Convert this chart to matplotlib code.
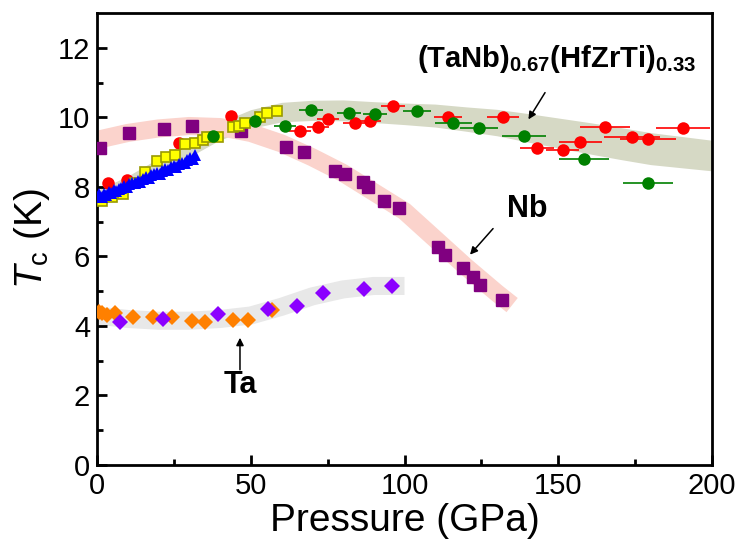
import matplotlib
matplotlib.use("Agg")
import matplotlib.pyplot as plt

plt.rcParams['font.family'] = ['Liberation Sans', 'DejaVu Sans']
plt.rcParams['mathtext.fontset'] = 'custom'
plt.rcParams['mathtext.rm'] = 'Liberation Sans'
plt.rcParams['mathtext.it'] = 'Liberation Sans:italic'
plt.rcParams['mathtext.bf'] = 'Liberation Sans:bold'

# guide-to-the-eye bands
hea_band_p = [0, 10, 20, 30, 40, 50, 60, 70, 80, 90, 100, 110, 120, 130, 140, 150, 160, 170, 180, 190, 200]
hea_band_mid = [7.7, 8.1, 8.6, 9.1, 9.6, 9.95, 10.15, 10.2, 10.2, 10.15, 10.1, 10.05, 9.95, 9.85, 9.7, 9.55, 9.4, 9.25, 9.1, 9.0, 8.9]
hea_band_half = [0.2, 0.21, 0.22, 0.24, 0.25, 0.27, 0.28, 0.29, 0.3, 0.3, 0.31, 0.33, 0.35, 0.38, 0.41, 0.43, 0.45, 0.46, 0.46, 0.45, 0.44]
nb_band_p = [0, 10, 20, 30, 40, 50, 60, 70, 80, 90, 100, 110, 120, 130, 135]
nb_band_t = [9.35, 9.55, 9.68, 9.75, 9.72, 9.55, 9.25, 8.85, 8.4, 7.85, 7.3, 6.5, 5.7, 4.95, 4.6]
ta_band_p = [0, 10, 20, 30, 40, 50, 60, 70, 80, 90, 100]
ta_band_t = [4.3, 4.2, 4.15, 4.15, 4.2, 4.3, 4.55, 4.85, 5.05, 5.15, 5.15]

# Nb
nb_p = [1.0, 10.4, 21.8, 30.9, 46.8, 61.5, 67.3, 77.4, 80.7, 86.5, 88.1, 93.3, 98.2, 110.9, 113.2, 119.0, 122.3, 124.6, 131.7]
nb_t = [9.11, 9.54, 9.65, 9.74, 9.60, 9.16, 8.99, 8.47, 8.36, 8.13, 8.01, 7.58, 7.38, 6.28, 6.05, 5.68, 5.42, 5.19, 4.76]

# Ta
ta1_p = [0.5, 1.5, 3.2, 5.9, 11.8, 18.3, 24.3, 30.8, 35.1, 44.3, 49.2, 56.9]
ta1_t = [4.40, 4.37, 4.32, 4.38, 4.27, 4.27, 4.27, 4.15, 4.12, 4.18, 4.18, 4.47]
ta2_p = [7.5, 21.5, 39.3, 55.6, 65.0, 73.5, 86.8, 95.9]
ta2_t = [4.12, 4.20, 4.35, 4.50, 4.58, 4.95, 5.07, 5.16]

# (TaNb)0.67(HfZrTi)0.33
blue_p = [0.3, 0.8, 1.5, 2.2, 3.0, 3.8, 4.6, 5.4, 6.2, 7.0, 7.9, 8.8, 9.6, 10.5, 11.4, 12.3, 13.2, 14.1, 15.0,
          15.9, 16.8, 17.7, 18.6, 19.5, 20.4, 21.3, 22.2, 23.1, 24.0, 24.9, 25.8, 26.7, 27.6, 28.5, 29.4, 30.3, 31.2, 32.0]
blue_t = [7.72, 7.78, 7.70, 7.80, 7.76, 7.85, 7.82, 7.90, 7.88, 7.95, 7.98, 8.02, 7.99, 8.08, 8.10, 8.12, 8.18, 8.15, 8.24,
          8.28, 8.26, 8.34, 8.36, 8.40, 8.38, 8.47, 8.50, 8.48, 8.56, 8.60, 8.58, 8.66, 8.70, 8.68, 8.77, 8.82, 8.80, 8.93]
yel_p = [1.5, 5.0, 8.5, 12.4, 15.6, 19.5, 22.5, 25.4, 28.6, 31.9, 34.5, 35.8, 39.3, 44.2, 46.2, 48.1, 53.0, 55.3, 58.5]
yel_t = [7.60, 7.70, 7.80, 8.10, 8.44, 8.75, 8.85, 8.93, 9.24, 9.27, 9.34, 9.42, 9.43, 9.71, 9.74, 9.83, 10.00, 10.12, 10.17]
red_p = [3.6, 9.8, 26.7, 43.6, 66.0, 71.9, 75.1, 83.9, 88.8, 96.3, 114.1, 132.0, 143.1, 151.5, 157.1, 165.2, 174.0, 179.2, 190.6]
red_t = [8.10, 8.21, 9.25, 10.05, 9.60, 9.71, 9.94, 9.83, 9.88, 10.32, 10.00, 10.00, 9.11, 9.05, 9.28, 9.71, 9.42, 9.39, 9.68]
red_err = [0, 0, 0, 0, 3.5, 3.5, 3.6, 4.0, 3.5, 4.0, 4.6, 5.1, 5.4, 5.4, 7.0, 8.0, 9.0, 9.0, 8.7]
grn_p = [37.7, 51.4, 61.1, 69.6, 82.0, 90.4, 104.0, 115.8, 124.2, 138.9, 158.4, 179.2]
grn_t = [9.45, 9.88, 9.74, 10.20, 10.12, 10.09, 10.17, 9.83, 9.68, 9.45, 8.79, 8.10]
grn_err = [0, 0, 3.5, 4.0, 4.0, 4.0, 4.5, 6.0, 6.3, 7.2, 8.0, 8.1]

fig = plt.figure(figsize=(7.37, 5.53), dpi=100)
ax = fig.add_axes([0.1316, 0.1591, 0.8345, 0.8174])

# bands
lo = [m - h for m, h in zip(hea_band_mid, hea_band_half)]
hi = [m + h for m, h in zip(hea_band_mid, hea_band_half)]
ax.fill_between(hea_band_p, lo, hi, color='#d6d9c5', lw=0, zorder=1)
ax.plot(nb_band_p, nb_band_t, color='#fbd3cc', lw=13, solid_capstyle='butt', solid_joinstyle='round', zorder=1)
ax.plot(ta_band_p, ta_band_t, color='#e8e8e8', lw=13, solid_capstyle='butt', solid_joinstyle='round', zorder=1)

# Nb and Ta
ax.plot(nb_p, nb_t, 's', color='#800080', ms=8, mec='#800080', zorder=3)
ax.plot(ta1_p, ta1_t, 'D', color='#ff8000', ms=8, mew=0, zorder=3)
ax.plot(ta2_p, ta2_t, 'D', color='#8b00ff', ms=8, mew=0, zorder=4)

# high-entropy alloy
ax.errorbar(red_p, red_t, xerr=red_err, fmt='o', color='#ff0000', ms=9, mew=0,
            elinewidth=1.2, capsize=3.5, capthick=1.2, zorder=4)
ax.plot(yel_p, yel_t, 's', mfc='#ffff00', mec='#999900', mew=1.2, ms=7, zorder=5)
ax.errorbar(grn_p, grn_t, xerr=grn_err, fmt='o', color='#008000', ms=9, mew=0,
            elinewidth=1.2, capsize=3.5, capthick=1.2, zorder=6)
ax.plot(blue_p, blue_t, '^', color='#0000ff', ms=8, mew=0, zorder=7)

# labels and arrows
arr = dict(arrowstyle='-|>', color='black', lw=1.1, mutation_scale=11, shrinkA=0, shrinkB=0)
ax.annotate('', xy=(140.3, 9.94), xytext=(145.7, 10.71), arrowprops=arr)
ax.annotate('', xy=(121.3, 6.05), xytext=(128.8, 6.8), arrowprops=arr)
ax.annotate('', xy=(46.5, 3.66), xytext=(46.5, 2.74), arrowprops=arr)
ax.text(149.6, 11.44, r'$\mathbf{(TaNb)_{0.67}(HfZrTi)_{0.33}}$', fontsize=21, ha='center', va='baseline')
ax.text(139.8, 7.35, 'Nb', fontsize=22, fontweight='bold', ha='center', va='center')
ax.text(46.5, 2.3, 'Ta', fontsize=22, fontweight='bold', ha='center', va='center')

ax.set_xlim(0, 200)
ax.set_ylim(0, 13)
ax.set_xticks([0, 50, 100, 150, 200])
ax.set_xticks([25, 75, 125, 175], minor=True)
ax.set_yticks([0, 2, 4, 6, 8, 10, 12])
ax.set_yticks([1, 3, 5, 7, 9, 11], minor=True)
ax.tick_params(which='both', direction='in', width=2, labelsize=21, top=False, right=False)
ax.tick_params(which='major', length=7, pad=5)
ax.tick_params(which='minor', length=4)
for s in ax.spines.values():
    s.set_linewidth(2)
ax.set_xlabel('Pressure (GPa)', fontsize=28, labelpad=2)
ax.set_ylabel(r'$T_{\mathrm{c}}$ (K)', fontsize=28, labelpad=4)

fig.savefig('out.png', dpi=100)
